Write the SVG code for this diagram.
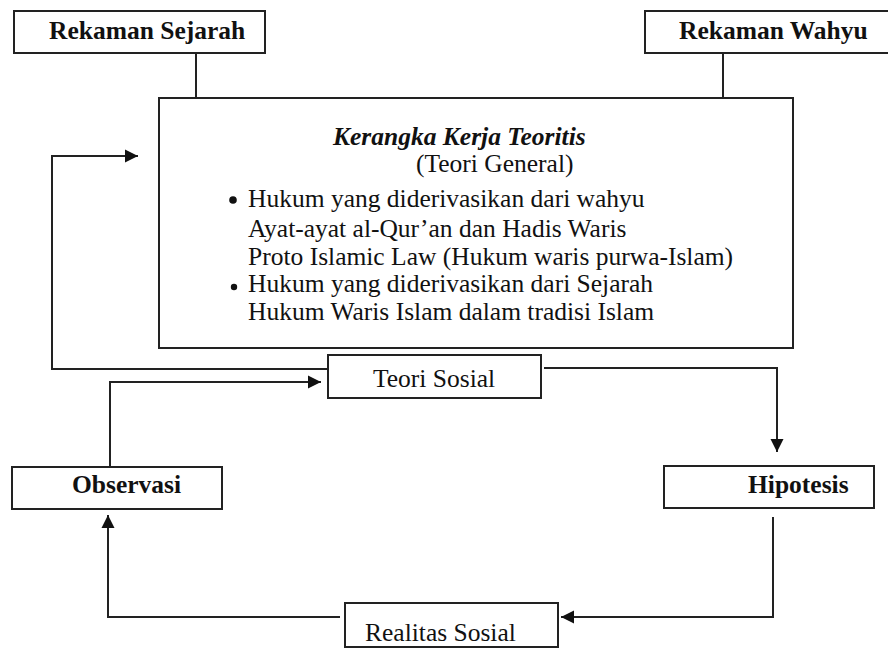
<svg xmlns="http://www.w3.org/2000/svg" width="888" height="648" viewBox="0 0 888 648">
<style>
.box{fill:#fff;stroke:#222;stroke-width:2}
.ln{fill:none;stroke:#222;stroke-width:2}
.t{font-family:"Liberation Serif","Times New Roman",serif;font-size:25.5px;fill:#111}
.b{font-weight:bold}
.bi{font-weight:bold;font-style:italic}
</style>
<defs>
<marker id="ah" markerWidth="14" markerHeight="14" refX="13" refY="7" orient="auto" markerUnits="userSpaceOnUse">
<path d="M0,0.5 L13,7 L0,13.5 Z" fill="#111"/>
</marker>
</defs>
<rect width="888" height="648" fill="#fff"/>
<g id="connectors">
<line class="ln" x1="196" y1="53" x2="196" y2="98"/>
<line class="ln" x1="723" y1="53" x2="723" y2="98"/>
<polyline class="ln" points="328,369 52,369 52,156 138,156" marker-end="url(#ah)"/>
<polyline class="ln" points="110,467 110,382 321,382" marker-end="url(#ah)"/>
<polyline class="ln" points="544,368 777,368 777,452" marker-end="url(#ah)"/>
<polyline class="ln" points="773,517 773,617 561,617" marker-end="url(#ah)"/>
<polyline class="ln" points="340,617 108,617 108,515" marker-end="url(#ah)"/>
</g>
<g id="rekaman-sejarah">
<rect class="box" x="14" y="11" width="251" height="42"/>
<text class="t b" x="49" y="39">Rekaman Sejarah</text>
</g>
<g id="rekaman-wahyu">
<rect class="box" x="645" y="11" width="250" height="42"/>
<text class="t b" x="679" y="39">Rekaman Wahyu</text>
</g>
<g id="kerangka">
<rect class="box" x="159" y="98" width="634" height="250"/>
<text class="t bi" x="333" y="145">Kerangka Kerja Teoritis</text>
<text class="t" x="416" y="172">(Teori General)</text>
<circle cx="233" cy="200" r="3.8" fill="#111"/>
<text class="t" x="248" y="207">Hukum yang diderivasikan dari wahyu</text>
<text class="t" x="248" y="237">Ayat-ayat al-Qur’an dan Hadis Waris</text>
<text class="t" x="248" y="265">Proto Islamic Law (Hukum waris purwa-Islam)</text>
<circle cx="234" cy="287" r="3.2" fill="#111"/>
<text class="t" x="248" y="292">Hukum yang diderivasikan dari Sejarah</text>
<text class="t" x="248" y="320">Hukum Waris Islam dalam tradisi Islam</text>
</g>
<g id="teori-sosial">
<rect class="box" x="328" y="355" width="213" height="43"/>
<text class="t" x="373" y="387">Teori Sosial</text>
</g>
<g id="observasi">
<rect class="box" x="12" y="467" width="210" height="42"/>
<text class="t b" x="72" y="493">Observasi</text>
</g>
<g id="hipotesis">
<rect class="box" x="664" y="466" width="210" height="42"/>
<text class="t b" x="748" y="493">Hipotesis</text>
</g>
<g id="realitas-sosial">
<rect class="box" x="345" y="603" width="213" height="44"/>
<text class="t" x="365" y="641">Realitas Sosial</text>
</g>
</svg>
